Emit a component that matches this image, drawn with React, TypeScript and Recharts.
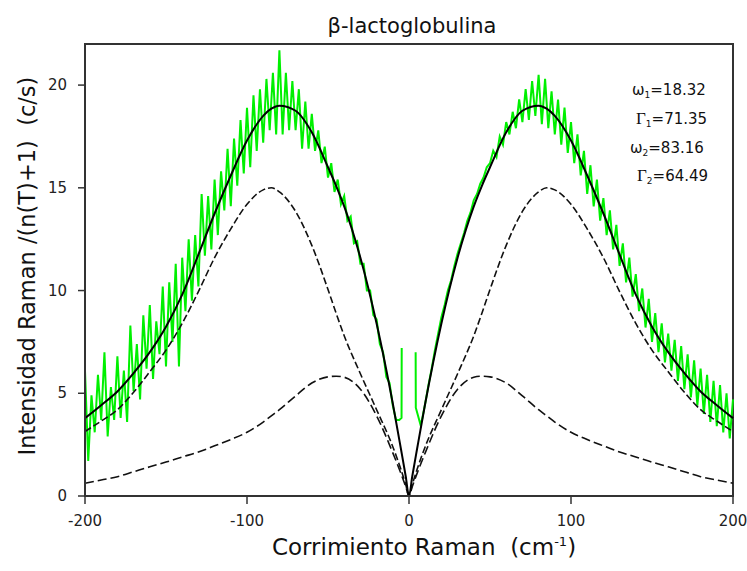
import { LineChart, Line, XAxis, YAxis, ReferenceArea } from 'recharts'

// fitted curves
const FIT_X = [
  -200, -190, -180, -170, -160, -150, -140, -130, -120, -110, -100, -90, -85, -80, -70, -60, -50, -45, -40, -30, -20, -10, -5, -2,
  0,
  2, 5, 10, 20, 30, 40, 45, 50, 60, 70, 80, 85, 90, 100, 110, 120, 130, 140, 150, 160, 170, 180, 190, 200,
]
const FIT_TOTAL = [
  3.79, 4.42, 5.09, 5.98, 7.0, 8.24, 9.8, 11.75, 13.75, 15.6, 17.3, 18.5, 18.85, 19.0, 18.75, 17.7, 16.0, 15.1, 14.1, 11.6, 8.4, 4.5, 2.3, 0.95,
  0,
  0.95, 2.3, 4.5, 8.4, 11.6, 14.1, 15.1, 16.0, 17.7, 18.75, 19.0, 18.85, 18.5, 17.3, 15.6, 13.75, 11.75, 9.8, 8.24, 7.0, 5.98, 5.09, 4.42, 3.79,
]
const FIT_OSC2 = [
  3.14, 3.65, 4.2, 5.05, 6.05, 7.1, 8.4, 9.95, 11.6, 13.0, 14.2, 14.9, 15.0, 14.8, 13.85, 12.2, 10.05, 8.9, 7.8, 5.95, 4.2, 2.4, 1.3, 0.55,
  0,
  0.55, 1.3, 2.4, 4.2, 5.95, 7.8, 8.9, 10.05, 12.2, 13.85, 14.8, 15.0, 14.9, 14.2, 13.0, 11.6, 9.95, 8.4, 7.1, 6.05, 5.05, 4.2, 3.65, 3.14,
]
const FIT_OSC1 = [
  0.62, 0.78, 0.94, 1.18, 1.42, 1.65, 1.9, 2.14, 2.44, 2.75, 3.1, 3.6, 3.9, 4.2, 4.87, 5.5, 5.8, 5.83, 5.78, 5.2, 3.9, 2.1, 1.1, 0.45,
  0,
  0.45, 1.1, 2.1, 3.9, 5.2, 5.78, 5.83, 5.8, 5.5, 4.87, 4.2, 3.9, 3.6, 3.1, 2.75, 2.44, 2.14, 1.9, 1.65, 1.42, 1.18, 0.94, 0.78, 0.62,
]

// measured spectrum, x = -200 .. -8 every 2 cm-1
const GREEN_LEFT_Y = [
  6.1, 1.7, 4.9, 3.1, 5.9, 3.7, 7.0, 2.9, 5.3, 3.7,
  6.8, 3.8, 6.1, 3.6, 8.3, 5.1, 7.4, 4.7, 8.8, 6.2,
  9.3, 5.7, 8.5, 6.9, 10.2, 6.3, 10.4, 7.5, 11.3, 6.3,
  11.6, 9.0, 12.5, 9.5, 12.7, 10.2, 14.7, 11.7, 14.6, 12.0,
  15.4, 12.7, 15.8, 13.9, 16.9, 14.1, 17.4, 15.1, 18.3, 15.7,
  18.9, 16.0, 19.5, 16.8, 19.8, 17.2, 20.3, 17.8, 20.6, 17.6,
  21.7, 17.6, 20.6, 17.8, 20.2, 17.8, 19.8, 16.9, 19.2, 16.9,
  18.6, 16.8, 17.8, 16.2, 17.0, 15.5, 16.2, 14.8, 15.4, 14.2,
  14.6, 13.4, 13.6, 12.3, 12.4, 11.3, 11.3, 10.0, 10.0, 8.8,
  8.6, 7.4, 7.0, 5.8, 5.5, 4.4, 3.7,
]
// x = 8 .. 200 every 2 cm-1
const GREEN_RIGHT_Y = [
  3.7, 4.5, 5.4, 6.2, 7.1, 7.9, 8.7, 9.3, 10.0, 10.5,
  11.2, 11.8, 12.3, 12.8, 13.4, 13.8, 14.4, 14.7, 15.2, 15.5,
  16.0, 16.2, 16.8, 16.5, 17.5, 17.1, 18.2, 17.6, 18.7, 17.9,
  19.3, 18.2, 19.8, 18.3, 20.2, 18.5, 20.5, 18.1, 20.3, 17.9,
  19.7, 17.6, 19.3, 17.1, 18.9, 16.7, 18.2, 16.2, 17.6, 15.6,
  16.8, 14.7, 16.1, 14.1, 15.4, 13.4, 14.5, 12.7, 13.9, 12.0,
  13.2, 11.2, 12.3, 10.4, 11.6, 9.7, 10.8, 9.0, 10.1, 8.2,
  9.6, 7.5, 8.9, 7.0, 8.4, 6.5, 7.9, 6.1, 7.6, 5.6,
  7.3, 5.2, 6.9, 4.8, 6.6, 4.4, 6.2, 4.0, 5.9, 3.6,
  5.6, 3.4, 5.4, 3.1, 5.0, 2.8, 4.7,
]
// points next to the notch around 0
const NOTCH_LEFT_X = [-6, -4.6, -4.5]
const NOTCH_LEFT_Y = [3.7, 3.8, 7.2]
const NOTCH_RIGHT_X = [4.1, 4.2, 7]
const NOTCH_RIGHT_Y = [7.0, 4.3, 3.5]

const X_TICKS = [-200, -100, 0, 100, 200]
const Y_TICKS = [0, 5, 10, 15, 20]

const fitData = FIT_X.map((x, i) => ({ x, total: FIT_TOTAL[i], osc2: FIT_OSC2[i], osc1: FIT_OSC1[i] }))
const greenLeft = GREEN_LEFT_Y.map((y, i) => ({ x: -200 + 2 * i, y }))
  .concat(NOTCH_LEFT_X.map((x, i) => ({ x, y: NOTCH_LEFT_Y[i] })))
const greenRight = NOTCH_RIGHT_X.map((x, i) => ({ x, y: NOTCH_RIGHT_Y[i] }))
  .concat(GREEN_RIGHT_Y.map((y, i) => ({ x: 8 + 2 * i, y })))

const FONT = '"DejaVu Sans", sans-serif'
const AXIS = '#333'

const XTick = ({ x, y, payload }: any) => (
  <text x={x} y={y} dy={11} textAnchor="middle" fontSize={15} fontFamily={FONT} fill="#222">{payload.value}</text>
)
const YTick = ({ x, y, payload }: any) => (
  <text x={x} y={y} dy={5} textAnchor="end" fontSize={15} fontFamily={FONT} fill="#222">{payload.value}</text>
)

export default function App() {
  return (
    <div style={{ position: 'relative', width: 747, height: 571 }}>
      {/* drop the default body margin and any scrollbar so the chart sits in page coordinates */}
      <style>{'html, body { margin: 0; padding: 0; overflow: hidden; }'}</style>
      <LineChart width={747} height={571} data={fitData} margin={{ top: 44, right: 14, bottom: 33, left: 45 }}>
        <XAxis
          dataKey="x" type="number" domain={[-200, 200]} ticks={X_TICKS} interval={0}
          height={42} tickSize={8} tickMargin={11} tick={<XTick />}
          axisLine={{ stroke: AXIS, strokeWidth: 2 }} tickLine={{ stroke: AXIS, strokeWidth: 1.5 }}
        />
        <YAxis
          type="number" domain={[0, 22]} ticks={Y_TICKS} interval={0}
          width={40} tickSize={7} tickMargin={11} tick={<YTick />}
          axisLine={{ stroke: AXIS, strokeWidth: 2 }} tickLine={{ stroke: AXIS, strokeWidth: 1.5 }}
        />
        <Line data={greenLeft} dataKey="y" type="linear" stroke="#00f000" strokeWidth={2} dot={false} isAnimationActive={false} />
        <Line data={greenRight} dataKey="y" type="linear" stroke="#00f000" strokeWidth={2} dot={false} isAnimationActive={false} />
        <Line dataKey="osc2" type="monotone" stroke="#111" strokeWidth={1.6} strokeDasharray="7 3" dot={false} isAnimationActive={false} />
        <Line dataKey="osc1" type="monotone" stroke="#111" strokeWidth={1.6} strokeDasharray="9 4" dot={false} isAnimationActive={false} />
        <Line dataKey="total" type="monotone" stroke="#000" strokeWidth={2} dot={false} isAnimationActive={false} />
        <ReferenceArea x1={-200} x2={200} y1={0} y2={22} fill="none" stroke={AXIS} strokeWidth={2} />
      </LineChart>

      <svg width={747} height={571} style={{ position: 'absolute', left: 0, top: 0, pointerEvents: 'none' }}>
        <g fontFamily={FONT} fill="#111">
          <text x={412} y={33} fontSize={21} textAnchor="middle">β-lactoglobulina</text>
          <text x={424} y={555} fontSize={23} textAnchor="middle">
            Corrimiento Raman{'\u00a0\u00a0'}(cm<tspan fontSize={13} dy={-9}>-1</tspan><tspan dy={9}>)</tspan>
          </text>
          <text x={0} y={0} fontSize={22.5} textAnchor="middle" transform="translate(35 266) rotate(-90)">
            Intensidad Raman /(n(T)+1){'\u00a0\u00a0'}(c/s)
          </text>
          <g fontSize={15}>
            <text x={632} y={95}>ω<tspan fontSize={9} dy={3}>1</tspan><tspan dy={-3}>=18.32</tspan></text>
            <text x={636} y={124}><tspan fontFamily='"Liberation Serif", serif' fontSize={17}>Γ</tspan><tspan fontSize={9} dy={3}>1</tspan><tspan dy={-3}>=71.35</tspan></text>
            <text x={630} y={153}>ω<tspan fontSize={9} dy={3}>2</tspan><tspan dy={-3}>=83.16</tspan></text>
            <text x={637} y={181}><tspan fontFamily='"Liberation Serif", serif' fontSize={17}>Γ</tspan><tspan fontSize={9} dy={3}>2</tspan><tspan dy={-3}>=64.49</tspan></text>
          </g>
        </g>
      </svg>
    </div>
  )
}
